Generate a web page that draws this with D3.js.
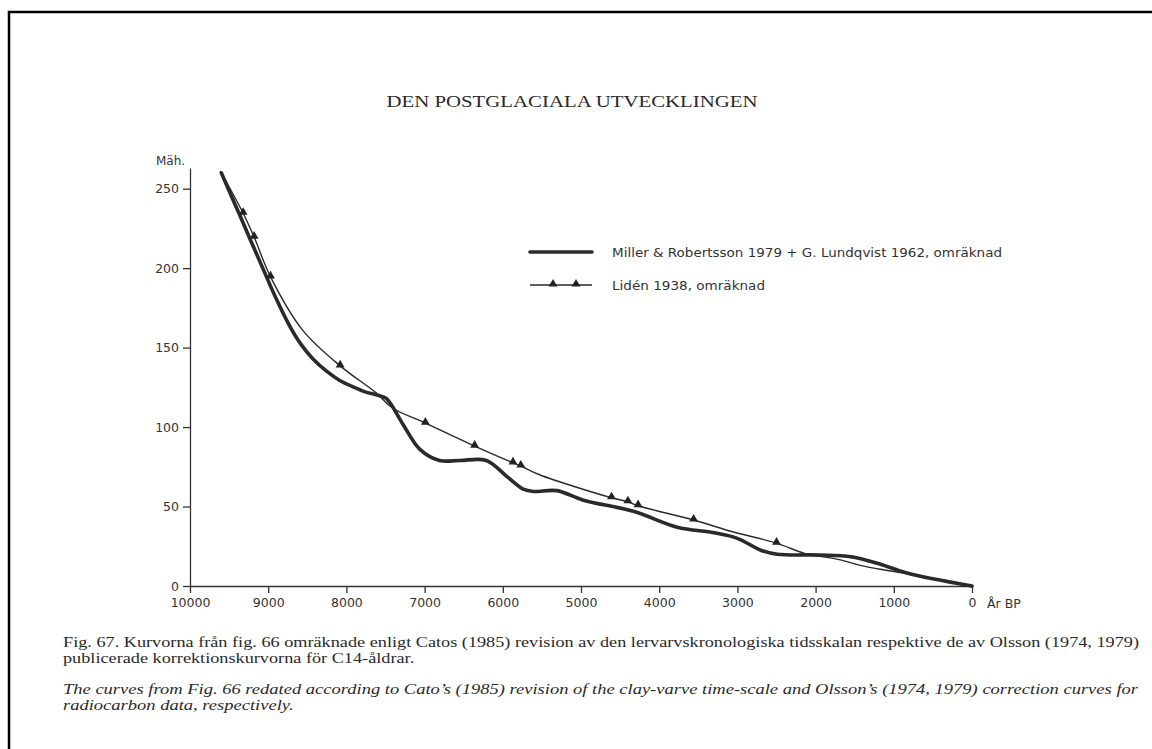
<!DOCTYPE html>
<html lang="sv">
<head>
<meta charset="UTF-8">
<title>Den postglaciala utvecklingen</title>
<script src="https://d3js.org/d3.v7.min.js"></script>
<style>
  html, body { margin: 0; padding: 0; background: #fff; overflow: hidden; }
  svg { display: block; }
  .axis text { font-family: "DejaVu Sans", sans-serif; font-size: 12.5px; fill: #333; }
  .axis path, .axis line { stroke: #333; stroke-width: 1.3px; }
  .serif { font-family: "Liberation Serif", "Times New Roman", serif; fill: #2a2a2a; }
  .sans { font-family: "DejaVu Sans", sans-serif; fill: #333; }
</style>
</head>
<body>
<div id="chart"></div>
<script>
// tjock kurva: Miller & Robertsson 1979 + G. Lundqvist 1962
const millerYears  = [9600, 9370, 9070, 8900, 8730, 8580, 8430, 8250, 8090, 7900, 7750, 7600, 7490, 7280, 7060, 6810, 6550, 6210, 5950, 5740, 5610, 5310, 4970, 4330, 3770, 3300, 3000, 2700, 2490, 1940, 1550, 1210, 820, 0];
const millerValues = [260, 234, 200, 181, 164, 152, 143, 135, 129.5, 125, 122, 120, 118, 102, 86, 79, 79, 79, 69, 61, 59.5, 60, 54, 47, 37, 33.5, 30, 22.5, 20, 19.5, 18.4, 14.3, 8, 0];

// tunn kurva med trianglar: Lidén 1938
const lidenYears  = [9600, 9320, 9180, 8970, 8560, 8080, 7620, 7410, 6990, 6360, 5870, 5770, 5530, 4610, 4400, 4270, 3560, 3050, 2500, 2110, 1770, 1340, 910, 0];
const lidenValues = [260, 234.5, 219.5, 194.5, 161, 138.5, 121.5, 112, 102.5, 88, 77.5, 75.5, 70, 55.5, 53, 50.5, 41.5, 34, 27, 20, 17.4, 12, 8.4, 0];
const lidenMarked = [false, true, true, true, false, true, false, false, true, true, true, true, false, true, true, true, true, false, true, false, false, false, false, false];

const xTicks = [10000, 9000, 8000, 7000, 6000, 5000, 4000, 3000, 2000, 1000, 0];
const yTicks = [0, 50, 100, 150, 200, 250];

const W = 1152, H = 749;
const svg = d3.select("#chart").append("svg").attr("width", W).attr("height", H);

// ram (vänster och överkant)
svg.append("path").attr("d", "M9,749 V12 H1160").attr("fill", "none").attr("stroke", "#000").attr("stroke-width", 2.5);

svg.append("text").attr("class", "serif").attr("x", 572).attr("y", 107)
  .attr("text-anchor", "middle").attr("font-size", 16.5).attr("textLength", 371).attr("lengthAdjust", "spacingAndGlyphs")
  .text("DEN POSTGLACIALA UTVECKLINGEN");

const x = d3.scaleLinear().domain([10000, 0]).range([190, 972]);
const y = d3.scaleLinear().domain([0, 263]).range([586, 168]);

svg.append("g").attr("class", "axis").attr("transform", "translate(0,586)")
  .call(d3.axisBottom(x).tickValues(xTicks).tickSize(7).tickSizeOuter(0).tickPadding(5).tickFormat(d3.format("d")));

svg.append("g").attr("class", "axis").attr("transform", "translate(190,0)")
  .call(d3.axisLeft(y).tickValues(yTicks).tickSize(7).tickSizeOuter(0).tickPadding(4));

svg.append("text").attr("class", "sans").attr("x", 156).attr("y", 165).attr("font-size", 12).text("Mäh.");
svg.append("text").attr("class", "sans").attr("x", 987).attr("y", 608).attr("font-size", 12.5).text("År BP");

const line = d3.line().x(d => x(d[0])).y(d => y(d[1])).curve(d3.curveCatmullRom.alpha(0.5));
const miller = millerYears.map((yr, i) => [yr, millerValues[i]]);
const liden = lidenYears.map((yr, i) => [yr, lidenValues[i]]);

svg.append("path").datum(liden).attr("d", line)
  .attr("fill", "none").attr("stroke", "#2a2a2a").attr("stroke-width", 1.4);
svg.append("path").datum(miller).attr("d", line)
  .attr("fill", "none").attr("stroke", "#2a2a2a").attr("stroke-width", 3.6).attr("stroke-linecap", "round");

const tri = d3.symbol().type(d3.symbolTriangle).size(34);
svg.selectAll(".mark").data(liden.filter((d, i) => lidenMarked[i])).enter()
  .append("path").attr("class", "mark").attr("d", tri)
  .attr("transform", d => `translate(${x(d[0])},${y(d[1]) - 1})`)
  .attr("fill", "#222");

// legend
const lg = svg.append("g");
lg.append("line").attr("x1", 530).attr("x2", 592).attr("y1", 252).attr("y2", 252)
  .attr("stroke", "#2a2a2a").attr("stroke-width", 3.6).attr("stroke-linecap", "round");
lg.append("text").attr("class", "sans").attr("x", 612).attr("y", 257).attr("font-size", 13)
  .attr("textLength", 390).attr("lengthAdjust", "spacingAndGlyphs").text("Miller & Robertsson 1979 + G. Lundqvist 1962, omräknad");
lg.append("line").attr("x1", 530).attr("x2", 592).attr("y1", 285).attr("y2", 285)
  .attr("stroke", "#2a2a2a").attr("stroke-width", 1.4);
[553, 576].forEach(px => lg.append("path").attr("d", tri).attr("transform", `translate(${px},284)`).attr("fill", "#222"));
lg.append("text").attr("class", "sans").attr("x", 612).attr("y", 290).attr("font-size", 13)
  .attr("textLength", 153).attr("lengthAdjust", "spacingAndGlyphs").text("Lidén 1938, omräknad");

// bildtext: första raden i varje stycke bestämmer hur mycket texten trycks ihop
const cap = svg.append("g").attr("class", "serif").attr("font-size", 15);
function para(lines, y0, full, italic) {
  const els = lines.map((t, i) => cap.append("text").attr("x", 63).attr("y", y0 + i * 16)
    .attr("font-style", italic ? "italic" : null).text(t));
  const k = full / els[0].node().getComputedTextLength();
  els.forEach(e => e.attr("textLength", e.node().getComputedTextLength() * k).attr("lengthAdjust", "spacingAndGlyphs"));
}
para(["Fig. 67. Kurvorna från fig. 66 omräknade enligt Catos (1985) revision av den lervarvskronologiska tidsskalan respektive de av Olsson (1974, 1979)",
      "publicerade korrektionskurvorna för C14-åldrar."], 647, 1076, false);
para(["The curves from Fig. 66 redated according to Cato’s (1985) revision of the clay-varve time-scale and Olsson’s (1974, 1979) correction curves for",
      "radiocarbon data, respectively."], 694, 1075, true);
</script>
</body>
</html>
